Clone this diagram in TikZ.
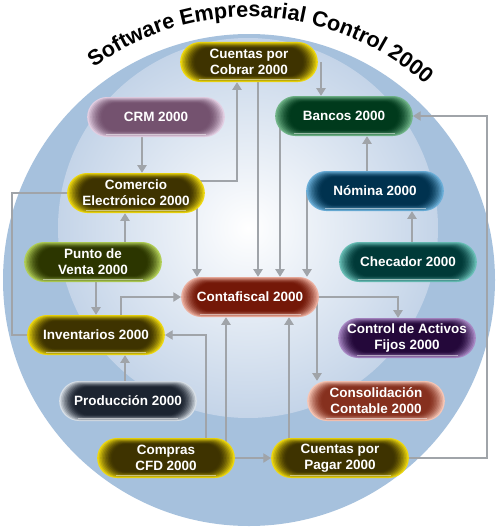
\documentclass[tikz,border=0pt]{standalone}
\usepackage{fontspec}
\setmainfont{Liberation Sans}
\usetikzlibrary{arrows.meta,shapes.misc,backgrounds,decorations.text}

% colores
\definecolor{ringblue}{HTML}{A6C1DD}
\definecolor{innerblue}{HTML}{C4D4E8}
\definecolor{linkgray}{HTML}{A0A4A9}
\definecolor{goldin}{HTML}{3E3300}\definecolor{goldout}{HTML}{EED80E}
\definecolor{crmin}{HTML}{74526F}\definecolor{crmout}{HTML}{E2CEE2}
\definecolor{greenin}{HTML}{003A1C}\definecolor{greenout}{HTML}{70B488}
\definecolor{bluein}{HTML}{00324F}\definecolor{blueout}{HTML}{6AAED8}
\definecolor{olivein}{HTML}{2C3600}\definecolor{oliveout}{HTML}{B0CE56}
\definecolor{tealin}{HTML}{003A38}\definecolor{tealout}{HTML}{68BEB6}
\definecolor{redin}{HTML}{741808}\definecolor{redout}{HTML}{ECB0A0}
\definecolor{violetin}{HTML}{24083A}\definecolor{violetout}{HTML}{A888C4}
\definecolor{slatein}{HTML}{1C2430}\definecolor{slateout}{HTML}{D8E0E8}
\definecolor{brickin}{HTML}{86301E}\definecolor{brickout}{HTML}{F6C6B6}
\colorlet{pillin}{black}\colorlet{pillout}{white}

\newcommand\arcfont{\bfseries\fontsize{18.5}{22}\selectfont}

\tikzset{
  module/.style 2 args={rounded rectangle, minimum width=4.2cm, minimum height=1.2cm,
    inner sep=1pt, /utils/exec={\colorlet{pillin}{#1}\colorlet{pillout}{#2}},
    fill=pillout, text=white, align=center,
    font=\bfseries\fontsize{11.5}{13.5}\selectfont,
    path picture={
      \foreach \k in {1,...,10}{
        \pgfmathsetmacro\mix{100*(1-\k/10)^1.6}
        \pgfmathsetmacro\dx{0.045*\k}
        \pgfmathsetmacro\dy{0.019*\k}
        \pgfmathsetmacro\rad{0.6-\dy}
        \fill[pillout!\mix!pillin, rounded corners=\rad cm]
          ([shift={(\dx cm,\dy cm)}]path picture bounding box.south west)
          rectangle ([shift={(-\dx cm,-\dy cm)}]path picture bounding box.north east);
      }
      \draw[white, opacity=0.5, line width=1pt]
        ([shift={(0.55cm,0.07cm)}]path picture bounding box.south west)
        -- ([shift={(-0.55cm,0.07cm)}]path picture bounding box.south east);
    }},
  link/.style={draw=linkgray, line width=1pt, -{Triangle[width=8pt,length=6.5pt]}},
  bus/.style={draw=linkgray, line width=1pt},
}

\begin{document}
\begin{tikzpicture}[x=0.03cm, y=-0.03cm]
  \useasboundingbox (0,0) rectangle (501,532);

  % Fondo
  \begin{scope}[on background layer]
    \fill[ringblue] (249,280) circle[radius=246];
    \shade[inner color=white, outer color=innerblue] (248,228) circle[radius=190];
  \end{scope}

  % Titulo
  \coordinate (hub) at (249,280);
  \begin{scope}[y=0.03cm]
    \path[decorate, decoration={text along path, text align=center,
      text={|\arcfont|Software Empresarial Control 2000}}]
      (hub) ++(134:263) arc[start angle=134, end angle=40, radius=263];
  \end{scope}

  % Modulos
  \node[module={goldin}{goldout}] (cobrar) at (249,62) {Cuentas por\\Cobrar 2000};
  \node[module={crmin}{crmout}] (crm) at (156,117) {CRM 2000};
  \node[module={greenin}{greenout}] (bancos) at (344,116) {Bancos 2000};
  \node[module={goldin}{goldout}] (comercio) at (136,193) {Comercio\\Electrónico 2000};
  \node[module={bluein}{blueout}] (nomina) at (375,191) {Nómina 2000};
  \node[module={olivein}{oliveout}] (punto) at (93,262) {Punto de\\Venta 2000};
  \node[module={tealin}{tealout}] (checador) at (408,262) {Checador 2000};
  \node[module={redin}{redout}] (conta) at (250,297) {Contafiscal 2000};
  \node[module={goldin}{goldout}] (invent) at (96,335) {Inventarios 2000};
  \node[module={violetin}{violetout}] (activos) at (407,338) {Control de Activos\\Fijos 2000};
  \node[module={slatein}{slateout}] (produc) at (128,401) {Producción 2000};
  \node[module={brickin}{brickout}] (consol) at (376,401) {Consolidación\\Contable 2000};
  \node[module={goldin}{goldout}] (compras) at (166,458) {Compras\\CFD 2000};
  \node[module={goldin}{goldout}] (pagar) at (340,458) {Cuentas por\\Pagar 2000};

  % Conexiones
  \begin{scope}[on background layer]
    \draw[link] (142,0 |- crm.center) -- (142,0 |- comercio.north);
    \draw[link] ([yshift=0.36cm]comercio.center) -| (237,0 |- cobrar.south);
    \draw[link] (258,0 |- cobrar.center) -- (258,0 |- conta.north);
    \draw[link] (321,0 |- cobrar.center) -- (321,0 |- bancos.north);
    \draw[link] (197,0 |- comercio.center) -- (197,0 |- conta.north);
    \draw[link] (280,0 |- bancos.center) -- (280,0 |- conta.north);
    \draw[link] (307,0 |- nomina.center) -- (307,0 |- conta.north);
    \draw[link] (412,0 |- checador.center) -- (412,0 |- nomina.south);
    \draw[link] (367,0 |- nomina.center) -- (367,0 |- bancos.south);
    \draw[link] (pagar.center) -| (487,0 |- bancos.center) -- (bancos.east);
    \draw[bus] (comercio.center) -| (12,0 |- invent.center) -- (invent.center);
    \draw[link] (96,0 |- punto.center) -- (96,0 |- invent.north);
    \draw[link] (125,0 |- punto.center) -- (125,0 |- comercio.south);
    \draw[link] (121,0 |- invent.center) |- (conta.west);
    \draw[link] (125,0 |- produc.center) -- (125,0 |- invent.south);
    \draw[link] (206,0 |- compras.center) |- (invent.east);
    \draw[link] (226,0 |- compras.center) -- (226,0 |- conta.south);
    \draw[link] (compras.center) -- (pagar.west);
    \draw[link] (289,0 |- pagar.center) -- (289,0 |- conta.south);
    \draw[link] (conta.center) -| (398,0 |- activos.north);
    \draw[link] (317,0 |- conta.center) -- (317,0 |- consol.north);
  \end{scope}
\end{tikzpicture}
\end{document}
